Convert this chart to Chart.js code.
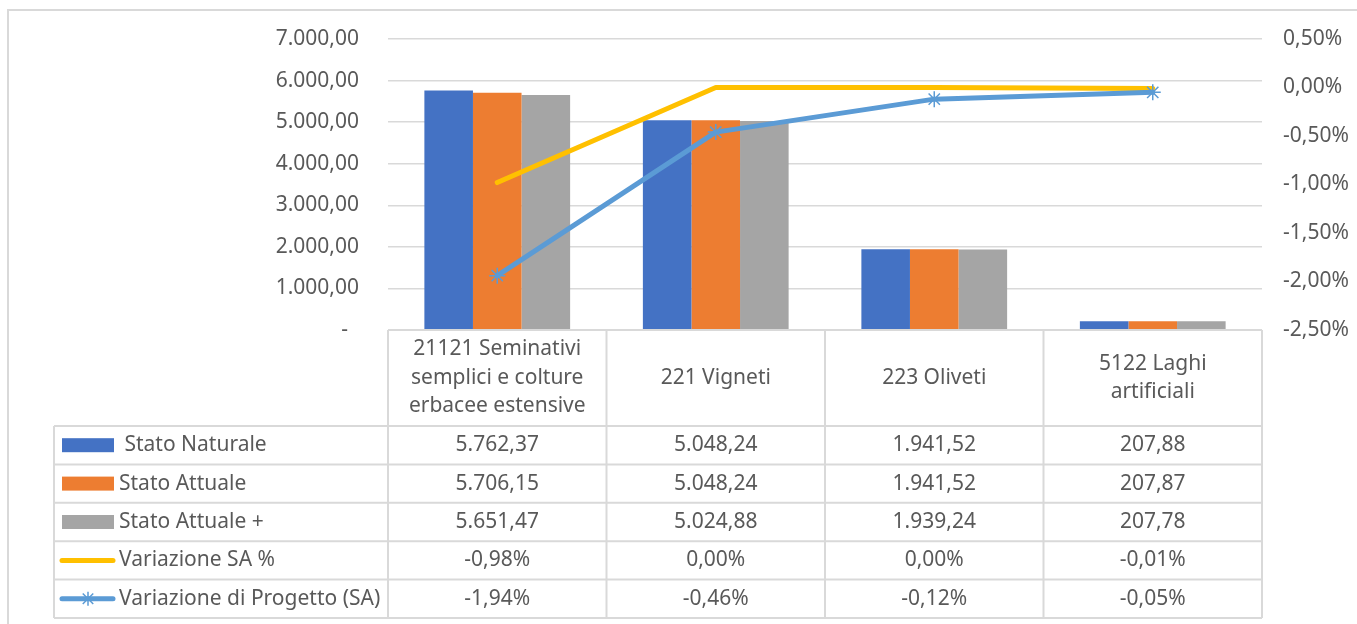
<!DOCTYPE html>
<html lang="it">
<head>
  <meta charset="UTF-8" />
  <title>Variazione uso del suolo</title>
  <script src="https://cdn.jsdelivr.net/npm/chart.js"></script>
  <style>
    html, body { margin: 0; padding: 0; background: #fff; }
    .wrap { width: 1357px; height: 624px; position: relative; }
  </style>
</head>
<body>
  <div class="wrap"><canvas id="usoSuolo"></canvas></div>

  <script>
    // categories (header lines as wrapped in the data table)
    const categorie = [
      ['21121 Seminativi', 'semplici e colture', 'erbacee estensive'],
      ['221 Vigneti'],
      ['223 Oliveti'],
      ['5122 Laghi', 'artificiali']
    ];

    const statoNaturale = [5762.37, 5048.24, 1941.52, 207.88];
    const statoAttuale = [5706.15, 5048.24, 1941.52, 207.87];
    const statoAttualePiu = [5651.47, 5024.88, 1939.24, 207.78];
    const variazioneSA = [-0.98, 0.00, 0.00, -0.01];          // %
    const variazioneProgetto = [-1.94, -0.46, -0.12, -0.05];  // %

    const assePrimario = { min: 0, max: 7000, step: 1000 };
    const asseSecondario = { min: -2.5, max: 0.5, step: 0.5 };

    const TEXT = '#595959';
    const LINE = '#d9d9d9';

    function fmtIt(v, dec) {
      const s = Math.abs(v).toFixed(dec);
      let [intPart, frac] = s.split('.');
      intPart = intPart.replace(/\B(?=(\d{3})+(?!\d))/g, '.');
      return (v < 0 ? '-' : '') + intPart + ',' + frac;
    }
    const fmtNum = v => fmtIt(v, 2);
    const fmtPct = v => fmtIt(v, 2) + '%';

    Chart.defaults.font.family = '"Noto Sans", sans-serif';
    Chart.defaults.font.size = 21;
    Chart.defaults.color = TEXT;

    // fixed plot box, like the Excel original
    function fixAxis(width) {
      return s => {
        s.width = width;
        s.paddingTop = 0;
        s.paddingBottom = 0;
      };
    }

    // draws the outer frame and the Excel-style data table under the plot
    const dataTable = {
      id: 'dataTable',
      beforeDraw(chart) {
        const ctx = chart.ctx;
        ctx.save();
        ctx.strokeStyle = LINE;
        ctx.lineWidth = 2;
        ctx.strokeRect(8, 10, 1400, 700);
        ctx.restore();
      },
      afterDraw(chart) {
        const ctx = chart.ctx;
        const area = chart.chartArea;
        const x = chart.scales.x;
        const n = categorie.length;
        const colW = (area.right - area.left) / n;
        const top = area.bottom;
        const headerH = 96;
        const rowH = 38.4;
        const tableLeft = 54;
        const ds = chart.data.datasets;
        const rowsTop = top + headerH;
        const bottom = rowsTop + rowH * ds.length;

        ctx.save();
        ctx.strokeStyle = LINE;
        ctx.lineWidth = 2;
        ctx.beginPath();
        ctx.moveTo(area.left, top);
        ctx.lineTo(area.right, top);
        for (let r = 0; r <= ds.length; r++) {
          const y = rowsTop + r * rowH;
          ctx.moveTo(tableLeft, y);
          ctx.lineTo(area.right, y);
        }
        ctx.moveTo(tableLeft, rowsTop);
        ctx.lineTo(tableLeft, bottom);
        for (let c = 0; c <= n; c++) {
          const xx = area.left + c * colW;
          ctx.moveTo(xx, top);
          ctx.lineTo(xx, bottom);
        }
        ctx.stroke();

        ctx.fillStyle = TEXT;
        ctx.font = '21px "Noto Sans", sans-serif';
        ctx.textAlign = 'center';
        ctx.textBaseline = 'middle';

        // header
        const lh = 28.5;
        categorie.forEach((lines, i) => {
          const cx = x.getPixelForValue(i);
          const y0 = top + 48 - (lines.length - 1) * lh / 2;
          lines.forEach((t, k) => ctx.fillText(t, cx, y0 + k * lh));
        });

        // rows
        ds.forEach((d, r) => {
          const cy = rowsTop + r * rowH + rowH / 2;
          const fmt = d.type === 'line' ? fmtPct : fmtNum;
          ctx.textAlign = 'center';
          d.data.forEach((v, i) => ctx.fillText(fmt(v), x.getPixelForValue(i), cy));

          // legend key
          if (d.type === 'line') {
            ctx.strokeStyle = d.borderColor;
            ctx.lineWidth = 5;
            ctx.lineCap = 'round';
            ctx.beginPath();
            ctx.moveTo(62, cy);
            ctx.lineTo(113, cy);
            ctx.stroke();
            if (d.pointRadius > 0) {
              const rr = 7;
              ctx.lineWidth = 1.5;
              ctx.lineCap = 'butt';
              ctx.beginPath();
              ctx.moveTo(88 - rr * 0.75, cy - rr * 0.75);
              ctx.lineTo(88 + rr * 0.75, cy + rr * 0.75);
              ctx.moveTo(88 - rr * 0.75, cy + rr * 0.75);
              ctx.lineTo(88 + rr * 0.75, cy - rr * 0.75);
              ctx.moveTo(88, cy - rr);
              ctx.lineTo(88, cy + rr);
              ctx.stroke();
            }
          } else {
            ctx.fillStyle = d.backgroundColor;
            ctx.fillRect(62, cy - 7, 52, 14);
          }
          ctx.fillStyle = TEXT;
          ctx.textAlign = 'left';
          ctx.fillText(d.label, 119, cy);
        });
        ctx.restore();
      }
    };

    new Chart('usoSuolo', {
      data: {
        labels: categorie,
        datasets: [
          { type: 'bar', label: ' Stato Naturale', data: statoNaturale, backgroundColor: '#4472C4', yAxisID: 'y', order: 2 },
          { type: 'bar', label: 'Stato Attuale', data: statoAttuale, backgroundColor: '#ED7D31', yAxisID: 'y', order: 2 },
          { type: 'bar', label: 'Stato Attuale +', data: statoAttualePiu, backgroundColor: '#A5A5A5', yAxisID: 'y', order: 2 },
          {
            type: 'line', label: 'Variazione SA %', data: variazioneSA, yAxisID: 'y1', order: 1,
            borderColor: '#FFC000', backgroundColor: '#FFC000', borderWidth: 5,
            borderCapStyle: 'round', borderJoinStyle: 'round', pointRadius: 0, tension: 0
          },
          {
            type: 'line', label: 'Variazione di Progetto (SA)', data: variazioneProgetto, yAxisID: 'y1', order: 0,
            borderColor: '#5B9BD5', backgroundColor: '#5B9BD5', borderWidth: 5,
            borderCapStyle: 'round', borderJoinStyle: 'round', tension: 0,
            pointStyle: 'star', pointRadius: 8, pointBorderWidth: 1.5, pointBorderColor: '#5B9BD5'
          }
        ]
      },
      options: {
        responsive: true,
        maintainAspectRatio: false,
        animation: false,
        layout: { padding: { left: 0, right: 0, top: 39, bottom: 294 } },
        datasets: { bar: { categoryPercentage: 0.667, barPercentage: 1.0 } },
        plugins: { legend: { display: false }, tooltip: { enabled: false } },
        scales: {
          x: { display: false },
          y: {
            position: 'left',
            min: assePrimario.min, max: assePrimario.max,
            grid: { color: LINE, lineWidth: 1.5, drawTicks: false },
            border: { display: false },
            ticks: {
              stepSize: assePrimario.step, padding: 29,
              callback: v => v === 0 ? '-  ' : fmtNum(v)
            },
            afterFit: fixAxis(388)
          },
          y1: {
            position: 'right',
            min: asseSecondario.min, max: asseSecondario.max,
            grid: { display: false, drawTicks: false },
            border: { display: false },
            ticks: { stepSize: asseSecondario.step, padding: 21, callback: v => fmtPct(v) },
            afterFit: fixAxis(95)
          }
        }
      },
      plugins: [dataTable]
    });
  </script>
</body>
</html>
